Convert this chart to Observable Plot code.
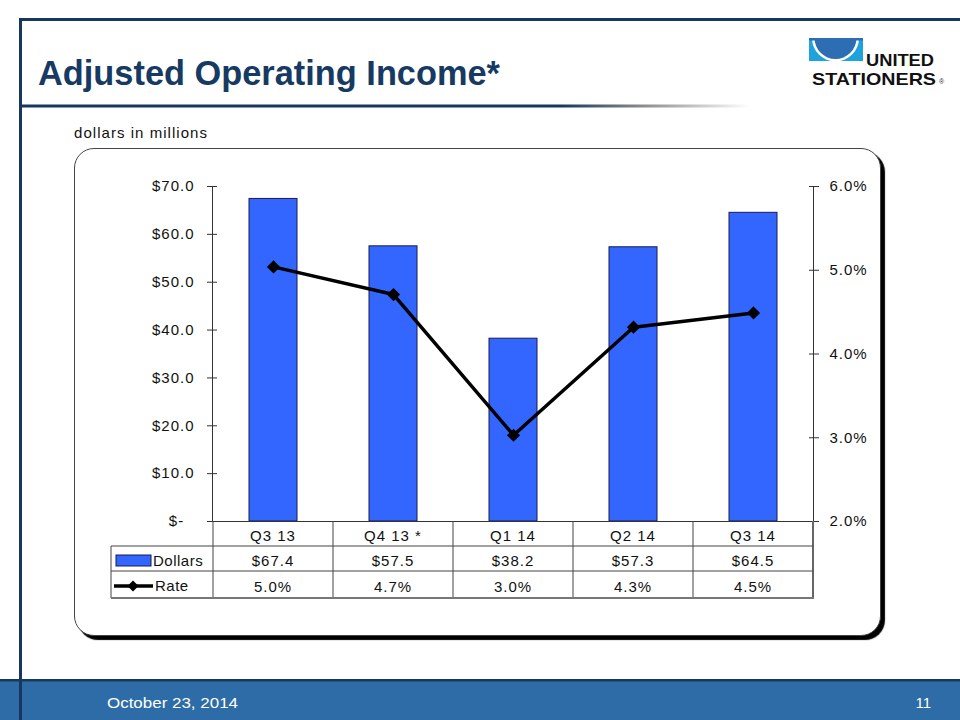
<!DOCTYPE html>
<html><head><meta charset="utf-8">
<script src="https://cdn.jsdelivr.net/npm/d3@7"></script>
<script src="https://cdn.jsdelivr.net/npm/@observablehq/plot@0.6"></script>
<style>
body{margin:0;background:#fff;font-family:Arial,"Liberation Sans",sans-serif;}
#page{position:relative;width:960px;height:720px;overflow:hidden;background:#fff;}
#deco{position:absolute;left:0;top:0;}
#box{position:absolute;left:74px;top:148px;width:805px;height:486px;border:1px solid #444;border-radius:20px;box-shadow:4px 4px 1px #000;background:#fff;}
#chart{position:absolute;left:100px;top:170px;}
</style></head><body><div id="page">
<svg id="deco" width="960" height="720">
  <defs>
    <linearGradient id="ul" gradientUnits="userSpaceOnUse" x1="22" y1="0" x2="750" y2="0">
      <stop offset="0" stop-color="#17375e"/>
      <stop offset="0.74" stop-color="#17375e"/>
      <stop offset="0.85" stop-color="#8a8a8a"/>
      <stop offset="1" stop-color="#ffffff"/>
    </linearGradient>
  </defs>
  <rect x="19" y="18" width="941" height="3" fill="#17375e"/>
  <rect x="22" y="104.5" width="728" height="3" fill="url(#ul)"/>
  <text x="38" y="85" font-family="'Liberation Sans Narrow','Arial Narrow',Arial,sans-serif" font-weight="bold" font-size="35" fill="#173a63" textLength="462" lengthAdjust="spacingAndGlyphs">Adjusted Operating Income*</text>
  <g id="logo">
    <rect x="809" y="38" width="54" height="23" fill="#1fa3dc"/>
    <path d="M812,38 A23.5,23.5 0 0 0 859,38 Z" fill="#fff"/>
    <path d="M814.5,38 A21,21 0 0 0 856.5,38 Z" fill="#2c6db3"/>
    <rect x="809" y="38" width="54" height="2.5" fill="#2c6db3"/>
    <text x="866" y="65.5" font-family="'Liberation Sans',Arial,sans-serif" font-weight="bold" font-size="17" fill="#111" textLength="68" lengthAdjust="spacingAndGlyphs">UNITED</text>
    <text x="812" y="84.5" font-family="'Liberation Sans',Arial,sans-serif" font-weight="bold" font-size="17" fill="#111" textLength="124" lengthAdjust="spacingAndGlyphs">STATIONERS</text>
    <text x="939" y="84" font-family="Arial,sans-serif" font-size="7" fill="#333">®</text>
  </g>
  <text x="74" y="138" font-family="Arial,'Liberation Sans',sans-serif" font-size="15" fill="#111" textLength="133">dollars in millions</text>
  <rect x="0" y="679" width="960" height="41" fill="#2d6ca6"/>
  <rect x="0" y="679" width="960" height="2.5" fill="#173a5c"/>
  <rect x="19" y="18" width="3" height="702" fill="#17375e"/>
  <text x="107" y="708" font-family="'Liberation Sans Narrow','Arial Narrow',Arial,sans-serif" font-size="15" fill="#fff" textLength="131" lengthAdjust="spacingAndGlyphs">October  23, 2014</text>
  <text x="931" y="708" text-anchor="end" font-family="'Liberation Sans Narrow','Arial Narrow',Arial,sans-serif" font-size="15" fill="#fff">11</text>
</svg>
<div id="box"></div>
<div id="chart"></div>
</div>
<script>
const quarters = ["Q3 13", "Q4 13 *", "Q1 14", "Q2 14", "Q3 14"];
const dollars = [67.4, 57.5, 38.2, 57.3, 64.5];
const rates = [5.04, 4.71, 3.03, 4.32, 4.49];
const dollarTicks = [0, 10, 20, 30, 40, 50, 60, 70];
const rateTicks = [2, 3, 4, 5, 6];
const rateMin = 2, rateMax = 6, dollarMax = 70;

const k = dollarMax / (rateMax - rateMin);
const toY = r => (r - rateMin) * k;
const data = quarters.map((q, i) => ({q, d: dollars[i], r: rates[i], ry: toY(rates[i])}));

const font = "Arial, 'Liberation Sans', sans-serif";
const chart = Plot.plot({
  width: 780, height: 430,
  marginLeft: 112, marginRight: 67, marginTop: 16, marginBottom: 79,
  style: {fontFamily: font, fontSize: "15px", color: "#111", background: "transparent", overflow: "visible"},
  x: {domain: quarters, paddingInner: 0.6, paddingOuter: 0.3, axis: null},
  y: {domain: [0, dollarMax], axis: null, label: null},
  marks: [
    Plot.barY(data, {x: "q", y: "d", fill: "#3366ff", stroke: "#1b1b55", strokeWidth: 1}),
    Plot.frame({anchor: "left", stroke: "#333"}),
    Plot.frame({anchor: "right", stroke: "#333"}),
    Plot.ruleY([0], {stroke: "#333"}),
    Plot.axisY(dollarTicks, {anchor: "left", label: null, tickSize: 5, tickPadding: 13, stroke: "#333",
      tickFormat: d => d === 0 ? "$-\u00a0\u00a0" : "$" + d.toFixed(1)}),
    Plot.axisY(dollarTicks, {anchor: "left", label: null, tickSize: -5, text: null, stroke: "#333"}),
    Plot.axisY(rateTicks.map(toY), {anchor: "right", label: null, tickSize: 5, tickPadding: 11, stroke: "#333",
      tickFormat: d => (d / k + rateMin).toFixed(1) + "%"}),
    Plot.axisY(rateTicks.map(toY), {anchor: "right", label: null, tickSize: -5, text: null, stroke: "#333"}),
    Plot.line(data, {x: "q", y: "ry", stroke: "#000", strokeWidth: 3.5}),
    Plot.dot(data, {x: "q", y: "ry", symbol: "diamond2", r: 5, fill: "#000", stroke: "#000"})
  ]
});
chart.style.letterSpacing = "1px";
document.getElementById("chart").appendChild(chart);

// data table under the axis, aligned with Plot's x scale
const xs = chart.scale("x"), ys = chart.scale("y");
const step = xs.step, gap = step - xs.bandwidth;
const colLeft = q => xs.apply(q) - gap / 2;
const left = colLeft(quarters[0]), right = colLeft(quarters[quarters.length - 1]) + step;
const y0 = ys.apply(0), r1 = y0 + 25, r2 = y0 + 50, r3 = y0 + 77;
const legL = left - 102;
const svg = d3.select(chart);
const g = svg.append("g").attr("font-family", font).attr("font-size", 15).attr("fill", "#111");
const line = (x1, y1, x2, y2, c = "#444", w = 1) =>
  g.append("line").attr("x1", x1).attr("y1", y1).attr("x2", x2).attr("y2", y2).attr("stroke", c).attr("stroke-width", w);
quarters.forEach(q => line(colLeft(q), y0, colLeft(q), r3));
line(right, y0, right, r3, "#666", 2);
line(legL, r1, legL, r3);
line(legL, r1, right, r1);
line(legL, r2, right, r2);
line(legL, r3, right + 1, r3, "#777", 2);
data.forEach(d => {
  const cx = colLeft(d.q) + step / 2;
  g.append("text").attr("x", cx).attr("y", y0 + 20).attr("text-anchor", "middle").text(d.q);
  g.append("text").attr("x", cx).attr("y", r1 + 20).attr("text-anchor", "middle").text("$" + d.d.toFixed(1));
  g.append("text").attr("x", cx).attr("y", r2 + 21).attr("text-anchor", "middle").text(d.r.toFixed(1) + "%");
});
// legend keys
g.append("rect").attr("x", legL + 5).attr("y", r1 + 9).attr("width", 35).attr("height", 11)
  .attr("fill", "#3366ff").attr("stroke", "#1b1b55");
g.append("text").attr("x", legL + 42).attr("y", r1 + 20).attr("text-anchor", "start").attr("letter-spacing", "0.5px").text("Dollars");
line(legL + 3, r2 + 15, legL + 42, r2 + 15, "#000", 3.5);
g.append("path").attr("d", d3.symbol(d3.symbolDiamond2, 78)())
  .attr("transform", `translate(${legL + 22},${r2 + 15})`).attr("fill", "#000");
g.append("text").attr("x", legL + 44).attr("y", r2 + 20).attr("text-anchor", "start").attr("letter-spacing", "0.5px").text("Rate");
</script>
</body></html>
